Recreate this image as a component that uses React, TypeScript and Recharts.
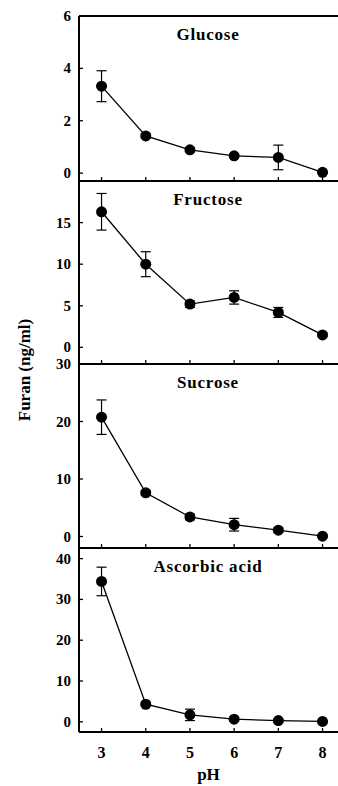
import { ErrorBar, Label, Line, LineChart, XAxis, YAxis } from "recharts";

const PH = [3, 4, 5, 6, 7, 8];

const glucose = [3.32, 1.42, 0.89, 0.66, 0.6, 0.03];
const glucoseErr = [0.59, 0.08, 0.08, 0.06, 0.47, 0.05];

const fructose = [16.3, 10.0, 5.2, 6.0, 4.2, 1.5];
const fructoseErr = [2.2, 1.5, 0.4, 0.8, 0.6, 0.2];

const sucrose = [20.75, 7.6, 3.4, 2.05, 1.1, 0.05];
const sucroseErr = [3.0, 0.4, 0.5, 1.1, 0.4, 0.2];

const ascorbic = [34.4, 4.3, 1.7, 0.65, 0.3, 0.1];
const ascorbicErr = [3.5, 0.5, 1.4, 0.5, 0.3, 0.2];

const glucoseTicks = [0, 2, 4, 6];
const fructoseTicks = [0, 5, 10, 15];
const sucroseTicks = [0, 10, 20, 30];
const ascorbicTicks = [0, 10, 20, 30, 40];

const FONT = "'Liberation Serif', 'Times New Roman', serif";
const M = 12;

const panels = [
  { name: "Glucose", v: glucose, e: glucoseErr, domain: [-0.3, 6], ticks: glucoseTicks, top: 16, bottom: 181 },
  { name: "Fructose", v: fructose, e: fructoseErr, domain: [-2, 20], ticks: fructoseTicks, top: 181, bottom: 364 },
  { name: "Sucrose", v: sucrose, e: sucroseErr, domain: [-2, 30], ticks: sucroseTicks, top: 364, bottom: 548 },
  { name: "Ascorbic acid", v: ascorbic, e: ascorbicErr, domain: [-2.5, 42.6], ticks: ascorbicTicks, top: 548, bottom: 732 },
];

function YTick({ x, y, payload }: any) {
  return (
    <g>
      <line x1={x} x2={x + 4} y1={y} y2={y} stroke="#000" strokeWidth={1.3} />
      <text x={x - 8} y={y + 5} textAnchor="end" fontFamily={FONT} fontWeight="bold" fontSize={15} fill="#000">
        {payload.value}
      </text>
    </g>
  );
}

function XTick({ x, y, payload, showLabel }: any) {
  return (
    <g>
      <line x1={x} x2={x} y1={y} y2={y - 4} stroke="#000" strokeWidth={1.3} />
      {showLabel && (
        <text x={x} y={y + 26} textAnchor="middle" fontFamily={FONT} fontWeight="bold" fontSize={16} fill="#000">
          {payload.value}
        </text>
      )}
    </g>
  );
}

function Panel({ p, first, last }: { p: (typeof panels)[number]; first: boolean; last: boolean }) {
  const data = PH.map((ph, i) => ({ ph, v: p.v[i], e: p.e[i] }));
  const xh = last ? 54 : 1;
  const th = first ? 1 : 0;
  const h = p.bottom - p.top + M + xh;
  return (
    <div style={{ position: "absolute", left: 0, top: p.top - M }}>
      <LineChart width={338} height={h} data={data} margin={{ top: M - th, right: 0, bottom: 0, left: 0 }}>
        {first && (
          <XAxis
            xAxisId="top"
            orientation="top"
            dataKey="ph"
            type="number"
            domain={[2.49, 8.35]}
            allowDataOverflow
            height={1}
            tick={false}
            tickLine={false}
            axisLine={{ stroke: "#000", strokeWidth: 2 }}
          />
        )}
        <XAxis
          dataKey="ph"
          type="number"
          domain={[2.49, 8.35]}
          ticks={PH}
          interval={0}
          allowDataOverflow
          height={xh}
          tickSize={0}
          tickMargin={0}
          tickLine={false}
          axisLine={{ stroke: "#000", strokeWidth: 2 }}
          tick={<XTick showLabel={last} />}
        >
          {last && (
            <Label
              value="pH"
              position="insideBottom"
              offset={6}
              style={{ fontFamily: FONT, fontWeight: "bold", fontSize: 17, fill: "#000" }}
            />
          )}
        </XAxis>
        <YAxis
          type="number"
          domain={p.domain}
          ticks={p.ticks}
          interval={0}
          allowDataOverflow
          width={79}
          tickSize={0}
          tickMargin={0}
          tickLine={false}
          axisLine={{ stroke: "#000", strokeWidth: 2 }}
          tick={<YTick />}
        />
        <Line
          dataKey="v"
          stroke="#000"
          strokeWidth={1.3}
          dot={{ r: 5.5, fill: "#000", stroke: "none" }}
          isAnimationActive={false}
        >
          <ErrorBar dataKey="e" width={5} stroke="#000" strokeWidth={1.2} direction="y" />
        </Line>
      </LineChart>
      <div
        style={{
          position: "absolute",
          left: 208,
          top: M + 19,
          transform: "translate(-50%, -50%)",
          fontFamily: FONT,
          fontWeight: "bold",
          fontSize: 17,
          letterSpacing: 0.8,
          whiteSpace: "nowrap",
          color: "#000",
        }}
      >
        {p.name}
      </div>
    </div>
  );
}

export default function App() {
  return (
    <div style={{ position: "absolute", left: 0, top: 0, width: 338, height: 786, background: "#fff" }}>
      {panels.map((p, i) => (
        <Panel key={p.name} p={p} first={i === 0} last={i === panels.length - 1} />
      ))}
      <div
        style={{
          position: "absolute",
          left: 25,
          top: 370,
          transform: "translate(-50%, -50%) rotate(-90deg)",
          fontFamily: FONT,
          fontWeight: "bold",
          fontSize: 17,
          whiteSpace: "nowrap",
          color: "#000",
        }}
      >
        Furan (ng/ml)
      </div>
    </div>
  );
}
